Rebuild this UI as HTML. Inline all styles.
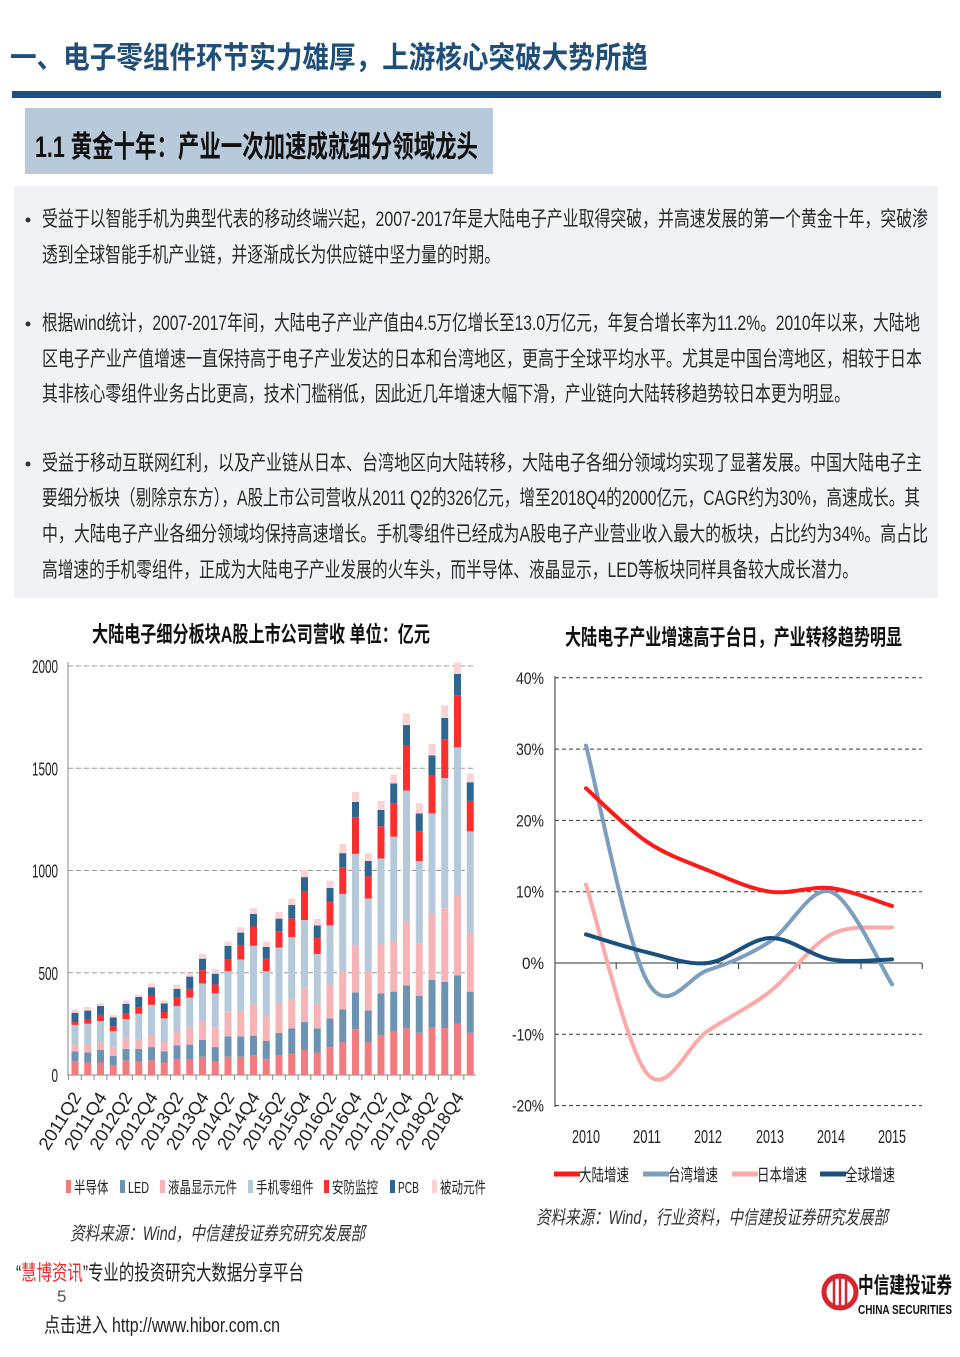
<!DOCTYPE html>
<html><head><meta charset="utf-8"><style>
html,body{margin:0;padding:0;background:#fff;}
svg{display:block;}
text{font-family:"Liberation Sans","Noto Sans CJK SC",sans-serif;}
</style></head><body>
<svg id="s" width="960" height="1357" viewBox="0 0 960 1357" xmlns="http://www.w3.org/2000/svg">
<text x="10" y="68" font-size="30" font-weight="bold" fill="#1f4e79" textLength="638" lengthAdjust="spacingAndGlyphs">一、电子零组件环节实力雄厚，上游核心突破大势所趋</text>
<rect x="12" y="91" width="929" height="7" fill="#1a4f7f"/>
<rect x="25" y="108" width="468" height="66" fill="#b8cad9"/>
<text x="35" y="157" font-size="30" font-weight="bold" fill="#111" textLength="443" lengthAdjust="spacingAndGlyphs">1.1 黄金十年：产业一次加速成就细分领域龙头</text>
<rect x="14" y="186" width="924" height="412" fill="#f0f2f5"/>
<g font-size="21" fill="#2a2a2a">
<circle cx="28" cy="220" r="2.5" fill="#333"/>
<text x="42" y="226" textLength="886" lengthAdjust="spacingAndGlyphs">受益于以智能手机为典型代表的移动终端兴起，2007-2017年是大陆电子产业取得突破，并高速发展的第一个黄金十年，突破渗</text>
<text x="42" y="262" textLength="458" lengthAdjust="spacingAndGlyphs">透到全球智能手机产业链，并逐渐成长为供应链中坚力量的时期。</text>
<circle cx="28" cy="324" r="2.5" fill="#333"/>
<text x="42" y="330" textLength="878" lengthAdjust="spacingAndGlyphs">根据wind统计，2007-2017年间，大陆电子产业产值由4.5万亿增长至13.0万亿元，年复合增长率为11.2%。2010年以来，大陆地</text>
<text x="42" y="366" textLength="880" lengthAdjust="spacingAndGlyphs">区电子产业产值增速一直保持高于电子产业发达的日本和台湾地区，更高于全球平均水平。尤其是中国台湾地区，相较于日本</text>
<text x="42" y="401" textLength="808" lengthAdjust="spacingAndGlyphs">其非核心零组件业务占比更高，技术门槛稍低，因此近几年增速大幅下滑，产业链向大陆转移趋势较日本更为明显。</text>
<circle cx="28" cy="464" r="2.5" fill="#333"/>
<text x="42" y="470" textLength="880" lengthAdjust="spacingAndGlyphs">受益于移动互联网红利，以及产业链从日本、台湾地区向大陆转移，大陆电子各细分领域均实现了显著发展。中国大陆电子主</text>
<text x="42" y="505" textLength="878" lengthAdjust="spacingAndGlyphs">要细分板块（剔除京东方），A股上市公司营收从2011 Q2的326亿元，增至2018Q4的2000亿元，CAGR约为30%，高速成长。其</text>
<text x="42" y="541" textLength="886" lengthAdjust="spacingAndGlyphs">中，大陆电子产业各细分领域均保持高速增长。手机零组件已经成为A股电子产业营业收入最大的板块，占比约为34%。高占比</text>
<text x="42" y="577" textLength="816" lengthAdjust="spacingAndGlyphs">高增速的手机零组件，正成为大陆电子产业发展的火车头，而半导体、液晶显示，LED等板块同样具备较大成长潜力。</text>
</g>
<text x="92" y="642" font-size="22" font-weight="bold" fill="#111" textLength="338" lengthAdjust="spacingAndGlyphs">大陆电子细分板块A股上市公司营收 单位：亿元</text>
<text x="565" y="645" font-size="22" font-weight="bold" fill="#111" textLength="337" lengthAdjust="spacingAndGlyphs">大陆电子产业增速高于台日，产业转移趋势明显</text>
<g id="left"></g>
<g id="right"></g>
<text x="70" y="1240" font-size="19" font-style="italic" fill="#333" font-family="Liberation Serif,'Noto Serif CJK SC',serif" textLength="295" lengthAdjust="spacingAndGlyphs">资料来源：Wind，中信建投证券究研究发展部</text>
<text x="536" y="1224" font-size="19" font-style="italic" fill="#333" font-family="Liberation Serif,'Noto Serif CJK SC',serif" textLength="352" lengthAdjust="spacingAndGlyphs">资料来源：Wind，行业资料，中信建投证券研究发展部</text>
<text x="16" y="1280" font-size="21" fill="#222" textLength="288" lengthAdjust="spacingAndGlyphs">“<tspan fill="#e03030">慧博资讯</tspan>”专业的投资研究大数据分享平台</text>
<text x="57" y="1302" font-size="17" fill="#555">5</text>
<text x="44" y="1332" font-size="20" fill="#222" textLength="236" lengthAdjust="spacingAndGlyphs">点击进入  http://www.hibor.com.cn</text>
<circle cx="840" cy="1292" r="16" fill="none" stroke="#d9232e" stroke-width="5"/>
<path d="M834 1278v28M840 1276v32M846 1278v28" stroke="#d9232e" stroke-width="2.5"/>
<text x="858" y="1293" font-size="22" font-weight="bold" fill="#111" textLength="94" lengthAdjust="spacingAndGlyphs">中信建投证券</text>
<text x="858" y="1314" font-size="13" font-weight="bold" fill="#111" textLength="94" lengthAdjust="spacingAndGlyphs">CHINA SECURITIES</text>
</svg>
<script>
var NS="http://www.w3.org/2000/svg";
function el(p,t,a,txt){var e=document.createElementNS(NS,t);for(var k in a)e.setAttribute(k,a[k]);if(txt!=null)e.textContent=txt;p.appendChild(e);return e;}
var L=document.getElementById("left");
var vals=[0,500,1000,1500,2000];
function yv(v){return 1075-v*409/2000;}
vals.forEach(function(v){var y=yv(v);
 if(v>0)el(L,"line",{x1:68,x2:476,y1:y,y2:y,stroke:"#999","stroke-dasharray":"5,3","stroke-width":1});
 el(L,"text",{x:58,y:y+7,"font-size":18,"text-anchor":"end",fill:"#222",textLength:(String(v).length*6.5),lengthAdjust:"spacingAndGlyphs"},String(v));});
el(L,"line",{x1:68,x2:68,y1:662,y2:1076,stroke:"#888"});
el(L,"line",{x1:68,x2:476,y1:1075,y2:1075,stroke:"#888"});
var D=[[1180,1152,1133,1078,1070,1044,1035],[1183,1155,1133,1075,1063,1038,1028],[1183,1148,1127,1067,1050,1025,1018],[1190,1165,1142,1095,1082,1057,1050],[1177,1145,1115,1062,1047,1019,1010],[1180,1145,1117,1047,1028,1000,993],[1177,1140,1108,1022,997,973,962],[1183,1152,1123,1060,1042,1018,1010],[1173,1135,1095,1025,1002,977,965],[1175,1133,1085,1002,977,943,933],[1167,1120,1070,962,925,893,880],[1180,1140,1085,990,965,935,922],[1167,1110,1040,928,895,857,845],[1167,1110,1038,895,857,820,805],[1163,1108,1020,857,803,768,752],[1173,1123,1053,928,893,860,845],[1163,1100,1018,862,816,781,762],[1158,1088,1005,833,781,743,725],[1148,1070,973,785,705,665,645],[1155,1088,1018,880,835,800,782],[1140,1060,965,800,735,695,675],[1127,1035,930,712,637,598,572],[1090,987,857,600,498,455,427],[1127,1038,930,725,663,620,598],[1107,990,853,613,523,477,452],[1097,985,845,552,458,403,378],[1087,968,788,423,297,240,208],[1100,997,850,620,537,487,458],[1085,952,768,487,382,325,293],[1087,958,752,388,280,220,185],[1075,940,715,302,157,97,65],[1100,985,823,537,452,400,375]];
var C=["#f27b7f","#6d93b3","#f7b4b7","#b5c9da","#ff2e2e","#2e6690","#fcd3d4"];
function ym(i){return 1075-(1218-i)*409/1143;}
D.forEach(function(b,i){var cx=75+i*12.75;var prev=1075;
 b.forEach(function(t,j){var y=ym(t);el(L,"rect",{x:cx-3.5,y:y,width:7,height:prev-y,fill:C[j]});prev=y;});
 el(L,"line",{x1:cx-6.4,x2:cx-6.4,y1:1075,y2:1080,stroke:"#888"});
 if(i%2==0){var lab=["2011Q2","2011Q4","2012Q2","2012Q4","2013Q2","2013Q4","2014Q2","2014Q4","2015Q2","2015Q4","2016Q2","2016Q4","2017Q2","2017Q4","2018Q2","2018Q4"][i/2];
  el(L,"text",{x:0,y:0,"font-size":18,"text-anchor":"end",fill:"#222",transform:"translate("+(cx+7)+",1097) rotate(-58)",textLength:64,lengthAdjust:"spacingAndGlyphs"},lab);}
});
var leg=[["半导体",66],["LED",120],["液晶显示元件",160],["手机零组件",248],["安防监控",324],["PCB",390],["被动元件",432]];
leg.forEach(function(l,j){el(L,"rect",{x:l[1],y:1180,width:5,height:13,fill:C[j]});
 el(L,"text",{x:l[1]+8,y:1193,"font-size":16,fill:"#222",textLength:l[0].length*(/[A-Z]/.test(l[0])?7:11.5),lengthAdjust:"spacingAndGlyphs"},l[0]);});
var R=document.getElementById("right");
function yp(p){return 963-p*7.13;}
[40,30,20,10,-10,-20].forEach(function(p){var y=yp(p);el(R,"line",{x1:555,x2:922,y1:y,y2:y,stroke:"#333","stroke-dasharray":"4,3","stroke-width":1});});
[40,30,20,10,0,-10,-20].forEach(function(p){el(R,"text",{x:544,y:yp(p)+6,"font-size":17,"text-anchor":"end",fill:"#222",textLength:(p<0?32:(p==0?22:28)),lengthAdjust:"spacingAndGlyphs"},p+"%");});
el(R,"line",{x1:555,x2:555,y1:676,y2:1107,stroke:"#333"});
el(R,"line",{x1:555,x2:922,y1:963,y2:963,stroke:"#333"});
for(var k=0;k<7;k++){var x=555+k*61.2;el(R,"line",{x1:x,x2:x,y1:963,y2:969,stroke:"#333"});}
var XS=[586,647,708,770,831,892];
XS.forEach(function(x,i){el(R,"text",{x:x,y:1143,"font-size":18,"text-anchor":"middle",fill:"#222",textLength:28,lengthAdjust:"spacingAndGlyphs"},String(2010+i));});
function path(v){var P=v.map(function(p,i){return [XS[i],yp(p)];});var d="M"+P[0][0]+","+P[0][1];
 for(var i=0;i<P.length-1;i++){var p0=P[Math.max(0,i-1)],p1=P[i],p2=P[i+1],p3=P[Math.min(P.length-1,i+2)];
 d+=" C"+(p1[0]+(p2[0]-p0[0])/6)+","+(p1[1]+(p2[1]-p0[1])/6)+" "+(p2[0]-(p3[0]-p1[0])/6)+","+(p2[1]-(p3[1]-p1[1])/6)+" "+p2[0]+","+p2[1];}return d;}
var S=[[[24.5,17,13,10,10.5,8],"#ff1a1a"],[[30.5,-2.5,-1,3,10,-3],"#7d9fbd"],[[11,-15.5,-9.5,-4,4,5],"#fbaaaa"],[[4,1.5,0,3.5,0.5,0.5],"#1a4f7f"]];
[2,1,3,0].forEach(function(i){el(R,"path",{d:path(S[i][0]),fill:"none",stroke:S[i][1],"stroke-width":4,"stroke-linecap":"round"});});
var lg=[["大陆增速",554],["台湾增速",643],["日本增速",732],["全球增速",820]];
lg.forEach(function(l,i){el(R,"line",{x1:l[1],x2:l[1]+26,y1:1174,y2:1174,stroke:S[i][1],"stroke-width":5});
 el(R,"text",{x:l[1]+25,y:1181,"font-size":17,fill:"#222",textLength:50,lengthAdjust:"spacingAndGlyphs"},l[0]);});
</script>
</body></html>
